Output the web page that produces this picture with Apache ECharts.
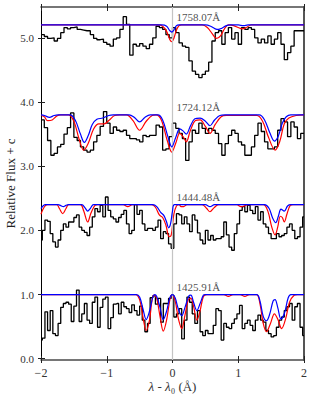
<!DOCTYPE html>
<html>
<head>
<meta charset="utf-8">
<script src="https://cdn.jsdelivr.net/npm/echarts@6/dist/echarts.min.js"></script>
<style>
  html, body { margin: 0; padding: 0; background: #fff; }
  #chart { width: 320px; height: 400px; }
</style>
</head>
<body>
<div id="chart"></div>
<script>
// transitions (label, continuum level)
var lineNames = ['1758.07Å', '1724.12Å', '1444.48Å', '1425.91Å'];
var levels = [5.2, 3.8, 2.4, 1.0];
var xTicks = [-2, -1, 0, 1, 2];
var yTicks = [0, 1, 2, 3, 4, 5];

// observed spectra, binned (coarse: 0.05 A bins, fine: 0.04 A samples)
var coarseStart = -2, coarseBin = 0.05;
var fineStart = -2, fineBin = 0.04;

var obs1758 = [5.05, 5.02, 4.99, 5.00, 4.95, 4.99, 5.08, 5.16, 5.14, 5.16,
  5.17, 5.13, 5.12, 5.11, 5.11, 5.05, 4.99, 4.97, 4.98, 4.93,
  4.90, 4.87, 4.98, 5.00, 5.13, 5.33, 5.21, 4.73, 4.90, 4.87,
  4.91, 4.87, 4.83, 4.90, 5.00, 5.18, 5.16, 5.13, 5.05, 5.00,
  5.16, 5.08, 4.92, 4.87, 4.85, 4.64, 4.48, 4.43, 4.38, 4.43,
  4.48, 4.62, 4.95, 5.08, 5.11, 4.90, 5.08, 5.16, 4.98, 5.08,
  4.90, 5.16, 5.13, 5.16, 5.13, 5.00, 4.92, 4.98, 4.92, 5.03,
  4.90, 4.98, 5.08, 4.90, 4.66, 4.77, 4.87, 5.11, 5.11, 5.11];

var obs1724 = [3.72, 3.60, 3.40, 3.17, 3.20, 3.30, 3.34, 3.50, 3.60, 3.83,
  3.45, 3.40, 3.30, 3.25, 3.22, 3.25, 3.38, 3.48, 3.62, 3.85,
  3.67, 3.51, 3.61, 3.56, 3.54, 3.56, 3.48, 3.43, 3.43, 3.41,
  3.38, 3.48, 3.46, 3.48, 3.48, 3.64, 3.61, 3.25, 3.27, 3.46,
  3.67, 3.59, 3.51, 3.43, 3.09, 3.38, 3.56, 3.51, 3.67, 3.59,
  3.51, 3.59, 3.56, 3.51, 3.35, 3.17, 3.35, 3.48, 3.56, 3.51,
  3.38, 3.33, 3.17, 3.17, 3.30, 3.48, 3.67, 3.54, 3.38, 3.27,
  3.27, 3.30, 3.56, 3.74, 3.69, 3.46, 3.69, 3.61, 3.43, 3.51];

var obs1444 = [1.85, 2.00, 2.16, 2.14, 1.95, 1.82, 1.74, 1.85, 2.00, 2.10,
  2.05, 2.13, 2.13, 2.20, 2.24, 2.05, 2.00, 1.97, 1.92, 2.05,
  2.21, 2.34, 2.29, 2.39, 2.21, 2.52, 2.31, 2.21, 2.18, 2.13,
  2.20, 2.25, 2.31, 2.10, 1.95, 2.00, 2.40, 2.25, 2.31, 2.10,
  2.00, 2.03, 2.03, 2.00, 2.05, 2.16, 1.87, 1.98, 1.95, 1.79,
  1.72, 2.10, 2.26, 2.24, 2.10, 2.21, 2.10, 1.98, 2.24, 2.16,
  1.96, 1.85, 1.79, 2.00, 1.85, 1.92, 1.85, 1.87, 1.87, 1.90,
  2.13, 1.93, 1.74, 1.69, 1.95, 2.10, 2.31, 2.37, 2.29, 2.39,
  2.31, 2.26, 2.37, 2.16, 2.29, 2.10, 2.05, 1.95, 1.87, 1.87,
  1.95, 1.90, 1.92, 1.95, 2.05, 2.10, 2.00, 1.87, 1.90, 2.05, 2.21];

var obs1425 = [0.29, 0.32, 0.73, 0.44, 0.75, 0.39, 0.36, 0.55, 0.80, 0.86,
  0.88, 0.85, 0.58, 0.82, 1.07, 0.58, 0.70, 0.86, 0.60, 0.55,
  0.88, 0.96, 0.49, 0.80, 0.93, 0.96, 0.47, 0.64, 0.85, 0.86,
  0.70, 0.88, 0.81, 0.78, 0.72, 0.84, 0.75, 0.68, 0.82, 0.60,
  0.42, 0.55, 0.95, 0.98, 0.85, 0.94, 0.57, 0.86, 0.86, 0.94,
  0.99, 0.65, 0.70, 0.78, 0.31, 0.60, 0.96, 0.88, 0.70, 0.55,
  0.75, 0.42, 0.36, 0.44, 0.39, 0.39, 0.52, 0.78, 0.75, 0.29,
  0.55, 0.49, 0.47, 0.55, 0.62, 0.70, 0.83, 0.47, 0.55, 0.60,
  0.52, 0.44, 0.60, 0.68, 0.60, 0.57, 0.44, 0.39, 0.34, 0.36,
  0.49, 0.60, 0.65, 0.75, 0.81, 0.86, 0.60, 0.81, 0.86, 0.49, 0.36];

// model profiles [dlambda, flux]
var red1758 = [[-2, 5.2], [-0.22, 5.2], [-0.15, 5.18], [-0.09, 5.1], [-0.04, 4.97], [-0.01, 4.94], [0.02, 4.99], [0.06, 5.12], [0.1, 5.19], [0.14, 5.2],
  [0.45, 5.2], [0.53, 5.16], [0.6, 5.07], [0.67, 4.99], [0.73, 5.03], [0.79, 5.14], [0.85, 5.2], [0.93, 5.19], [1.0, 5.16], [1.06, 5.14], [1.12, 5.16], [1.2, 5.2], [2, 5.2]];
var blue1758 = [[-2, 5.2], [-0.16, 5.2], [-0.09, 5.18], [-0.04, 5.11], [-0.01, 5.09], [0.02, 5.12], [0.06, 5.19], [0.1, 5.2],
  [0.5, 5.2], [0.58, 5.18], [0.65, 5.14], [0.7, 5.13], [0.75, 5.15], [0.82, 5.19], [0.88, 5.2], [1.0, 5.2], [1.08, 5.19], [1.15, 5.2], [2, 5.2]];

var red1724 = [[-2, 3.79], [-1.95, 3.77], [-1.9, 3.71], [-1.83, 3.72], [-1.76, 3.78], [-1.7, 3.8], [-1.58, 3.8], [-1.5, 3.7], [-1.42, 3.42], [-1.35, 3.25],
  [-1.28, 3.36], [-1.2, 3.58], [-1.12, 3.66], [-1.04, 3.66], [-0.96, 3.72], [-0.88, 3.79], [-0.8, 3.8], [-0.7, 3.8], [-0.6, 3.71], [-0.5, 3.56],
  [-0.4, 3.7], [-0.31, 3.79], [-0.25, 3.8], [-0.17, 3.72], [-0.08, 3.4], [-0.01, 3.22], [0.05, 3.36], [0.11, 3.51], [0.16, 3.46], [0.21, 3.38],
  [0.27, 3.55], [0.35, 3.71], [0.42, 3.72], [0.5, 3.62], [0.57, 3.51], [0.65, 3.65], [0.74, 3.77], [0.82, 3.79], [1.28, 3.79], [1.37, 3.7],
  [1.46, 3.45], [1.56, 3.25], [1.63, 3.38], [1.7, 3.66], [1.77, 3.75], [1.88, 3.79], [2, 3.8]];
var blue1724 = [[-2, 3.8], [-1.95, 3.79], [-1.87, 3.76], [-1.8, 3.79], [-1.74, 3.8], [-1.56, 3.8], [-1.48, 3.72], [-1.4, 3.5], [-1.34, 3.37], [-1.28, 3.48],
  [-1.22, 3.65], [-1.15, 3.73], [-1.06, 3.75], [-0.97, 3.79], [-0.9, 3.8], [-0.66, 3.8], [-0.58, 3.76], [-0.5, 3.69], [-0.42, 3.76], [-0.34, 3.8],
  [-0.22, 3.8], [-0.15, 3.72], [-0.07, 3.46], [-0.01, 3.3], [0.05, 3.45], [0.11, 3.58], [0.16, 3.55], [0.21, 3.5], [0.27, 3.62], [0.34, 3.74],
  [0.42, 3.75], [0.5, 3.7], [0.57, 3.63], [0.64, 3.72], [0.72, 3.79], [0.8, 3.8], [1.32, 3.8], [1.4, 3.72], [1.48, 3.52], [1.55, 3.39],
  [1.61, 3.47], [1.67, 3.67], [1.73, 3.77], [1.8, 3.8], [2, 3.8]];

var red1444 = [[-2, 2.25], [-1.97, 2.33], [-1.93, 2.39], [-1.9, 2.4], [-1.76, 2.4], [-1.72, 2.34], [-1.67, 2.26], [-1.62, 2.34], [-1.58, 2.4], [-1.4, 2.4],
  [-1.35, 2.3], [-1.29, 2.13], [-1.24, 2.27], [-1.18, 2.39], [-1.14, 2.4], [-0.75, 2.4], [-0.68, 2.37], [-0.61, 2.4], [-0.32, 2.4], [-0.26, 2.36],
  [-0.2, 2.24], [-0.15, 2.2], [-0.1, 2.08], [-0.05, 1.9], [-0.02, 1.92], [0.02, 2.25], [0.06, 2.38], [0.1, 2.4], [0.13, 2.37], [0.17, 2.37],
  [0.22, 2.4], [0.45, 2.4], [0.52, 2.34], [0.57, 2.29], [0.63, 2.35], [0.7, 2.4], [0.98, 2.4], [1.04, 2.37], [1.09, 2.38], [1.14, 2.4],
  [1.38, 2.4], [1.45, 2.3], [1.51, 2.05], [1.56, 1.93], [1.6, 2.05], [1.64, 2.22], [1.67, 2.2], [1.7, 2.13], [1.74, 2.25], [1.79, 2.39],
  [1.83, 2.4], [2, 2.4]];
var blue1444 = [[-2, 2.34], [-1.97, 2.38], [-1.93, 2.4], [-1.74, 2.4], [-1.69, 2.38], [-1.66, 2.37], [-1.62, 2.39], [-1.58, 2.4], [-1.38, 2.4], [-1.33, 2.35],
  [-1.29, 2.3], [-1.25, 2.34], [-1.2, 2.4], [-0.3, 2.4], [-0.24, 2.37], [-0.18, 2.28], [-0.13, 2.23], [-0.09, 2.13], [-0.06, 2.04], [-0.03, 2.1],
  [0.0, 2.3], [0.03, 2.4], [0.5, 2.4], [0.57, 2.37], [0.64, 2.4], [1.4, 2.4], [1.47, 2.34], [1.52, 2.2], [1.57, 2.12], [1.61, 2.22],
  [1.65, 2.33], [1.7, 2.3], [1.75, 2.38], [1.8, 2.4], [2, 2.4]];

var red1425 = [[-2, 1], [-0.56, 1], [-0.5, 0.92], [-0.45, 0.65], [-0.4, 0.44], [-0.35, 0.6], [-0.31, 0.92], [-0.28, 0.99], [-0.24, 0.94], [-0.19, 0.66],
  [-0.14, 0.43], [-0.09, 0.6], [-0.04, 0.92], [-0.01, 0.99], [0.04, 0.9], [0.09, 0.62], [0.14, 0.47], [0.19, 0.68], [0.24, 0.92], [0.28, 0.94],
  [0.32, 0.82], [0.37, 0.6], [0.42, 0.75], [0.47, 0.97], [0.52, 1], [0.78, 1], [0.85, 0.97], [0.92, 1], [1.03, 1], [1.1, 0.97],
  [1.17, 1], [1.28, 1], [1.33, 0.86], [1.38, 0.55], [1.43, 0.42], [1.49, 0.55], [1.55, 0.7], [1.6, 0.62], [1.66, 0.47], [1.72, 0.62],
  [1.78, 0.88], [1.85, 0.99], [1.9, 1], [2, 1]];
var blue1425 = [[-2, 1], [-0.55, 1], [-0.5, 0.96], [-0.45, 0.78], [-0.4, 0.61], [-0.35, 0.74], [-0.3, 0.96], [-0.27, 1], [-0.24, 0.97], [-0.19, 0.8],
  [-0.14, 0.61], [-0.09, 0.74], [-0.04, 0.95], [0, 1], [0.04, 0.95], [0.09, 0.77], [0.14, 0.67], [0.19, 0.8], [0.25, 0.98], [0.28, 0.99],
  [0.32, 0.88], [0.37, 0.75], [0.42, 0.86], [0.47, 0.99], [0.5, 1], [1.28, 1], [1.33, 0.9], [1.38, 0.66], [1.43, 0.59], [1.48, 0.7],
  [1.53, 0.9], [1.56, 0.92], [1.6, 0.8], [1.65, 0.62], [1.7, 0.7], [1.76, 0.95], [1.8, 1], [2, 1]];

(function() {
  var serif = '"Liberation Serif", "DejaVu Serif", serif';
  var chart = echarts.init(document.getElementById('chart'), null, { renderer: 'svg' });

  function binned(vals, start, width) {
    var pts = vals.map(function(v, i) { return [start + i * width, v]; });
    pts.push([start + vals.length * width, vals[vals.length - 1]]);
    return pts;
  }
  function sampled(vals, start, width) {
    return vals.map(function(v, i) { return [start + i * width, v]; });
  }

  function obsSeries(data, step) {
    return {
      type: 'line', data: data, step: step, showSymbol: false, silent: true,
      lineStyle: { color: '#000', width: 1.3 }, z: 3
    };
  }
  function modelSeries(data, color, z) {
    return {
      type: 'line', data: data, smooth: 0.35, showSymbol: false, silent: true,
      lineStyle: { color: color, width: 1.2 }, z: z
    };
  }

  var series = [{
    type: 'line', data: [], silent: true, z: 1,
    markLine: {
      silent: true, symbol: 'none', label: { show: false },
      lineStyle: { color: '#c4c4c4', width: 1.2, type: 'solid' },
      data: [{ xAxis: 0 }]
    }
  }];
  series.push(obsSeries(binned(obs1758, coarseStart, coarseBin), 'end'));
  series.push(obsSeries(binned(obs1724, coarseStart, coarseBin), 'end'));
  series.push(obsSeries(sampled(obs1444, fineStart, fineBin), 'middle'));
  series.push(obsSeries(sampled(obs1425, fineStart, fineBin), 'middle'));
  [red1758, red1724, red1444, red1425].forEach(function(d) { series.push(modelSeries(d, '#ff0000', 4)); });
  [blue1758, blue1724, blue1444, blue1425].forEach(function(d) { series.push(modelSeries(d, '#0000ff', 5)); });
  series.push({
    type: 'scatter', symbolSize: 0, silent: true, z: 6,
    data: levels.map(function(l, i) { return { name: lineNames[i], value: [0, l] }; }),
    label: {
      show: true, position: 'right', distance: 4, offset: [0, -8],
      formatter: '{b}', color: '#222', fontFamily: serif, fontSize: 11
    }
  });

  var tickStyle = { color: '#222', width: 1 };
  var noLine = { show: false, onZero: false };
  chart.setOption({
    animation: false,
    grid: { left: 41, right: 16, top: 7, bottom: 40, outerBoundsMode: 'none' },
    xAxis: [{
      type: 'value', position: 'bottom', min: -2, max: 2, interval: 1,
      axisLine: { onZero: false, lineStyle: { color: '#4a4a4a', width: 1.6 } },
      axisTick: { inside: true, length: 4, lineStyle: tickStyle },
      splitLine: { show: false },
      axisLabel: {
        color: '#333', fontFamily: serif, fontSize: 12, margin: 7,
        formatter: function(v) { return v < 0 ? '\u2212' + Math.abs(v) : String(v); }
      },
      name: '{i|λ} - {i|λ}₀ (Å)', nameLocation: 'middle', nameGap: 20, nameMoveOverlap: false,
      nameTextStyle: {
        color: '#333', fontFamily: serif, fontSize: 13,
        rich: { i: { fontStyle: 'italic', fontFamily: serif, fontSize: 13, color: '#333' } }
      }
    }, {
      type: 'value', position: 'bottom', min: -2, max: 2, interval: 1,
      axisLine: noLine, axisTick: { inside: false, length: 3, lineStyle: tickStyle },
      axisLabel: { show: false }, splitLine: { show: false }
    }, {
      type: 'value', position: 'top', min: -2, max: 2, interval: 1,
      axisLine: { onZero: false, lineStyle: { color: '#4a4a4a', width: 1.6 } },
      axisTick: { inside: true, length: 4, lineStyle: tickStyle },
      axisLabel: { show: false }, splitLine: { show: false }
    }, {
      type: 'value', position: 'top', min: -2, max: 2, interval: 1,
      axisLine: noLine, axisTick: { inside: false, length: 3, lineStyle: tickStyle },
      axisLabel: { show: false }, splitLine: { show: false }
    }],
    yAxis: [{
      type: 'value', position: 'left', min: -0.02, max: 5.48,
      axisLine: { onZero: false, lineStyle: { color: '#000', width: 1 } },
      axisTick: { inside: true, length: 4, customValues: yTicks, lineStyle: tickStyle },
      splitLine: { show: false },
      axisLabel: {
        customValues: yTicks, color: '#333', fontFamily: serif, fontSize: 11, margin: 7,
        formatter: function(v) { return v.toFixed(1); }
      },
      name: 'Relative Flux + c', nameLocation: 'middle', nameGap: 24, nameMoveOverlap: false,
      nameTextStyle: { color: '#222', fontFamily: serif, fontSize: 13 }
    }, {
      type: 'value', position: 'left', min: -0.02, max: 5.48,
      axisLine: noLine,
      axisTick: { inside: false, length: 3, customValues: yTicks, lineStyle: tickStyle },
      axisLabel: { show: false }, splitLine: { show: false }
    }, {
      type: 'value', position: 'right', min: -0.02, max: 5.48,
      axisLine: { onZero: false, lineStyle: { color: '#555', width: 2 } },
      axisTick: { show: false }, axisLabel: { show: false }, splitLine: { show: false }
    }],
    series: series
  });
  window.addEventListener('resize', function() { chart.resize(); });
})();
</script>
</body>
</html>
